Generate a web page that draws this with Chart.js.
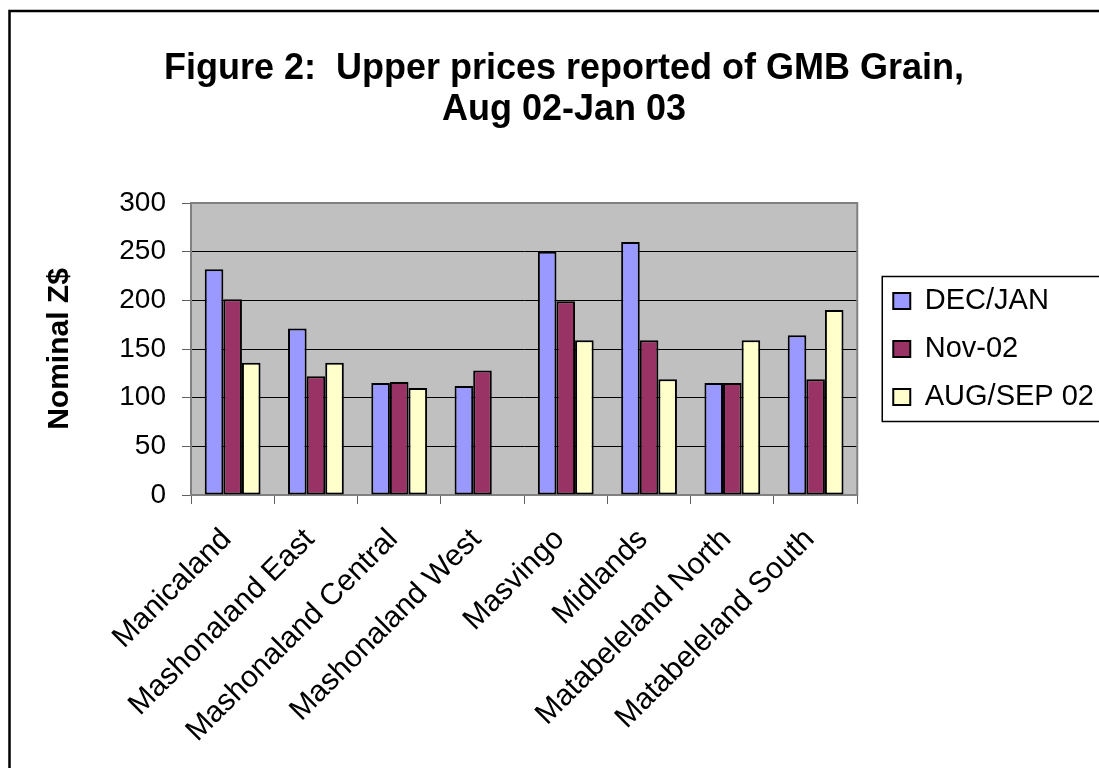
<!DOCTYPE html>
<html>
<head>
<meta charset="utf-8">
<script src="https://cdn.jsdelivr.net/npm/chart.js@4.4.1/dist/chart.umd.min.js"></script>
<style>
  html, body { margin: 0; padding: 0; background: #fff; overflow: hidden; }
  #wrap { position: absolute; left: 0; top: 0; width: 1128px; height: 768px; }
</style>
</head>
<body>
<div id="wrap"><canvas id="c" width="1128" height="768"></canvas></div>
<script>
const titleLines = ['Figure 2:  Upper prices reported of GMB Grain,', 'Aug 02-Jan 03'];
const yAxisTitle = 'Nominal Z$';
const categories = ['Manicaland', 'Mashonaland East', 'Mashonaland Central', 'Mashonaland West',
                    'Masvingo', 'Midlands', 'Matabeleland North', 'Matabeleland South'];
const seriesNames = ['DEC/JAN', 'Nov-02', 'AUG/SEP 02'];
const decJan   = [232, 171, 115, 112, 250, 260, 115, 164];
const nov02    = [201, 122, 116, 128, 199, 159, 115, 119];
const augSep02 = [136, 136, 110, null, 159, 119, 159, 190];
const yMin = 0, yMax = 300, yStep = 50;

const seriesColors = ['#9999FF', '#993366', '#FFFFCC'];
const FONT = "'Liberation Sans', Arial, sans-serif";

const framePlugin = {
  id: 'frame',
  beforeDraw(chart) {
    const ctx = chart.ctx, a = chart.chartArea;
    ctx.save();
    ctx.fillStyle = '#fff';
    ctx.fillRect(0, 0, chart.width, chart.height);
    ctx.strokeStyle = '#000';
    ctx.lineWidth = 2.5;
    ctx.strokeRect(9.5, 11, chart.width + 20, chart.height + 20);
    ctx.fillStyle = '#C0C0C0';
    ctx.fillRect(a.left, a.top, a.right - a.left, a.bottom - a.top);
    // title
    ctx.fillStyle = '#000';
    ctx.font = 'bold 36px ' + FONT;
    ctx.textAlign = 'center';
    ctx.textBaseline = 'middle';
    titleLines.forEach((t, i) => ctx.fillText(t, chart.width / 2, 69 + i * 41));
    ctx.restore();
  },
  beforeDatasetsDraw(chart) {
    const ctx = chart.ctx, a = chart.chartArea;
    ctx.save();
    ctx.strokeStyle = '#808080';
    ctx.lineWidth = 2;
    ctx.strokeRect(a.left, a.top, a.right - a.left, a.bottom - a.top);
    ctx.restore();
  },
  afterLayout(chart) {
    const lg = chart.legend, a = chart.chartArea;
    if (lg) {
      lg.left += 17; lg.right += 17;
      lg.top = a.top; lg.bottom = a.bottom; lg.height = a.bottom - a.top;
    }
  },
  afterDraw(chart) {
    const lg = chart.legend;
    if (!lg || !lg.legendHitBoxes || !lg.legendHitBoxes.length) return;
    const hb = lg.legendHitBoxes;
    const first = hb[0], last = hb[hb.length - 1];
    const ctx = chart.ctx;
    ctx.save();
    ctx.strokeStyle = '#000';
    ctx.lineWidth = 1.5;
    const x = first.left - 11, y = first.top - 10;
    const b = last.top + last.height + 10;
    ctx.strokeRect(x, y, chart.width + 20 - x, b - y);
    ctx.restore();
  }
};

const data = {
  labels: categories,
  datasets: [decJan, nov02, augSep02].map((vals, i) => ({
    label: seriesNames[i],
    data: vals,
    backgroundColor: seriesColors[i],
    borderColor: '#000',
    borderWidth: 2,
    borderSkipped: false,
    categoryPercentage: 0.67,
    barPercentage: 1.0
  }))
};

new Chart(document.getElementById('c'), {
  type: 'bar',
  data,
  plugins: [framePlugin],
  options: {
    responsive: false,
    animation: false,
    devicePixelRatio: 1,
    layout: { padding: { left: 0, right: 41, top: 203, bottom: 0 } },
    plugins: {
      tooltip: { enabled: false },
      title: { display: false },
      legend: {
        position: 'right',
        align: 'center',
        labels: {
          color: '#000',
          font: { family: FONT, size: 29 },
          boxWidth: 17,
          boxHeight: 16,
          padding: 19
        }
      }
    },
    scales: {
      x: {
        grid: { display: true, drawOnChartArea: false, drawTicks: true, tickLength: 9, tickColor: '#606060', offset: true },
        border: { display: true, color: '#808080', width: 2 },
        ticks: {
          color: '#000',
          font: { family: FONT, size: 30 },
          minRotation: 45, maxRotation: 45,
          autoSkip: false,
          padding: 18,
          labelOffset: -6
        },
        afterFit(scale) { scale.height = 273; }
      },
      y: {
        min: yMin, max: yMax,
        ticks: {
          stepSize: yStep,
          color: '#000',
          font: { family: FONT, size: 28 },
          padding: 16
        },
        grid: { color: '#000', lineWidth: 1, tickLength: 9, tickColor: '#606060' },
        border: { display: true, color: '#808080', width: 2 },
        title: {
          display: true,
          text: yAxisTitle,
          color: '#000',
          font: { family: FONT, size: 30, weight: 'bold', lineHeight: 1.2 },
          padding: { top: 42, bottom: 0 }
        },
        afterFit(scale) { scale.width = 191; }
      }
    }
  }
});
</script>
</body>
</html>
